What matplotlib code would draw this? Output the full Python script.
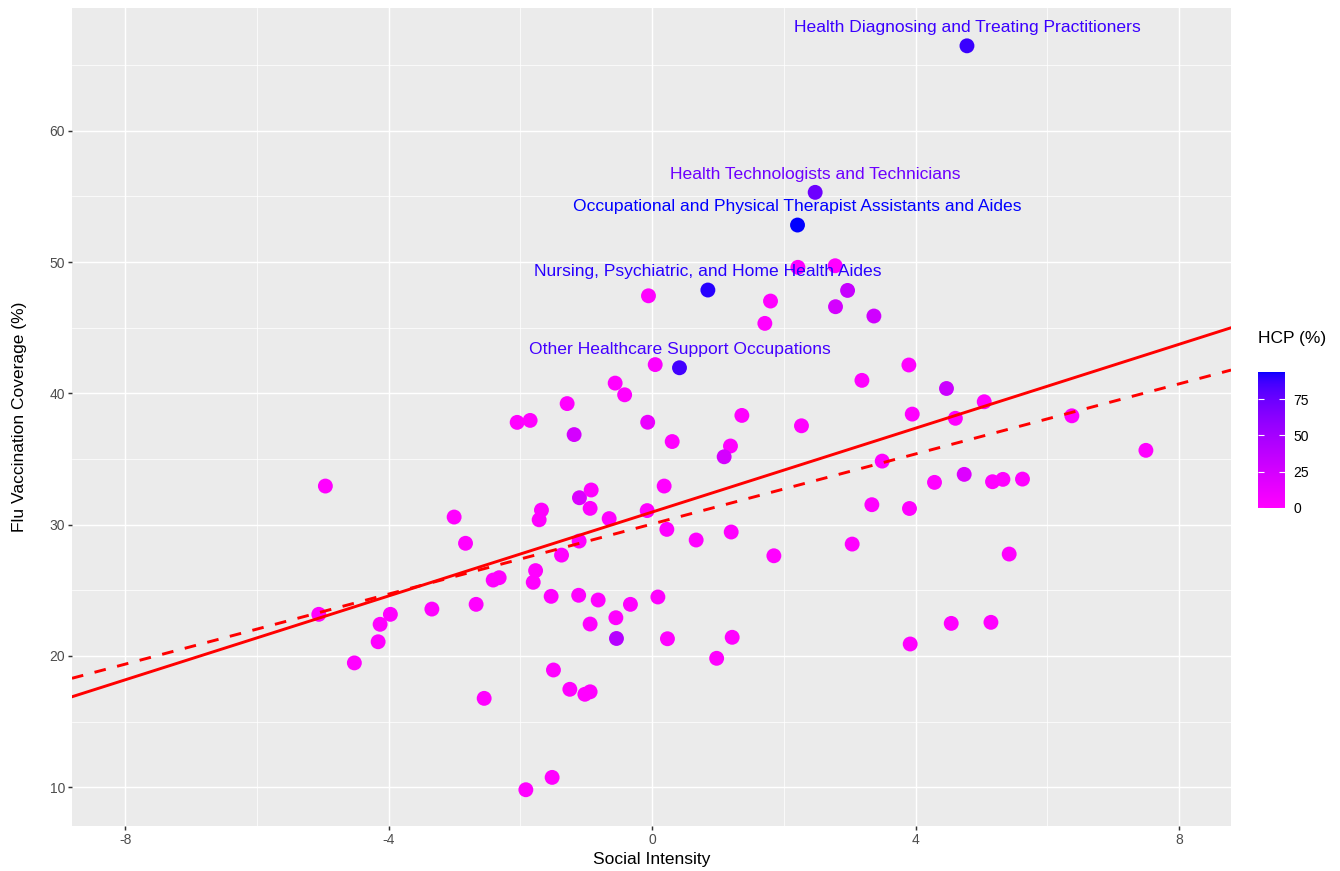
import numpy as np
import matplotlib
matplotlib.use("Agg")
import matplotlib.pyplot as plt
from matplotlib.colors import ListedColormap, Normalize

plt.rcParams['font.family'] = ['Liberation Sans', 'DejaVu Sans']
plt.rcParams['axes.unicode_minus'] = False

# data
social_intensity = [
    4.78, 2.475, 2.207, 0.846, 0.415,
    -0.056, 2.213, 2.779, 1.797, 2.967, 1.711, 2.784, 3.367, 0.046, -0.562,
    -0.418, 3.898, 3.185, 4.469, 3.949, 5.042, 4.604, -1.291, -1.185, -2.050,
    -1.853, -0.068, 0.304, 1.362, 2.267, 1.189, 1.093, 3.493, 6.373, 7.497,
    0.182, -1.104, -0.926, -1.681, -1.716, -0.653, -0.942, -0.076, 0.223, -1.109,
    0.668, 1.200, 3.336, 4.738, 4.287, 5.168, 5.326, 5.623, 3.907, 3.037,
    1.848, 5.421, -3.007, -2.834, -1.376, -1.770, -1.806, -2.414, -2.323, -4.962,
    -5.062, -4.131, -3.975, -4.161, -3.345, -2.673, -1.534, -1.116, -0.820, -0.330,
    0.087, -0.551, -0.942, -0.542, 0.232, 1.215, 0.979, -4.522, -1.499, -2.551,
    -1.250, -1.022, -0.942, -1.519, -1.918, 3.918, 4.541, 5.144,
]
flu_coverage = [
    66.47, 55.31, 52.82, 47.87, 41.95,
    47.43, 49.60, 49.72, 47.03, 47.84, 45.33, 46.60, 45.89, 42.19, 40.78,
    39.89, 42.16, 40.99, 40.37, 38.42, 39.36, 38.10, 39.22, 36.86, 37.79,
    37.94, 37.80, 36.33, 38.32, 37.53, 35.99, 35.17, 34.84, 38.29, 35.66,
    32.94, 32.05, 32.64, 31.11, 30.37, 30.46, 31.24, 31.07, 29.64, 28.75,
    28.83, 29.44, 31.52, 33.83, 33.22, 33.27, 33.45, 33.47, 31.23, 28.52,
    27.63, 27.76, 30.58, 28.58, 27.68, 26.50, 25.61, 25.78, 25.96, 32.94,
    23.17, 22.41, 23.17, 21.08, 23.57, 23.93, 24.54, 24.62, 24.26, 23.93,
    24.49, 22.91, 22.43, 21.33, 21.31, 21.42, 19.82, 19.47, 18.93, 16.77,
    17.46, 17.08, 17.27, 10.75, 9.81, 20.91, 22.48, 22.56,
]
hcp_pct = [
    88, 74, 94, 91, 86,
    0, 0, 0, 0, 33, 0, 25, 28, 2, 0,
    0, 0, 0, 30, 0, 0, 0, 0, 25, 0,
    0, 12, 0, 0, 0, 0, 25, 0, 0, 0,
    0, 22, 0, 0, 0, 0, 0, 0, 0, 0,
    0, 0, 0, 20, 0, 0, 0, 0, 0, 0,
    0, 0, 0, 0, 0, 0, 0, 0, 0, 0,
    0, 0, 0, 0, 0, 0, 0, 0, 0, 0,
    0, 0, 0, 42, 0, 0, 0, 0, 0, 0,
    0, 0, 0, 0, 0, 0, 0, 0,
]

occupation_labels = [
    "Health Diagnosing and Treating Practitioners",
    "Health Technologists and Technicians",
    "Occupational and Physical Therapist Assistants and Aides",
    "Nursing, Psychiatric, and Home Health Aides",
    "Other Healthcare Support Occupations",
]

# fitted lines (intercept, slope)
fit_solid = (30.96, 1.597)
fit_dashed = (30.05, 1.334)

x = np.array(social_intensity)
y = np.array(flu_coverage)
hcp = np.array(hcp_pct, dtype=float)


# magenta -> blue gradient interpolated in Lab space (like ggplot)
M = np.array([[0.4124, 0.3576, 0.1805],
              [0.2126, 0.7152, 0.0722],
              [0.0193, 0.1192, 0.9505]])
WHITE = np.array([0.95047, 1.0, 1.08883])


def srgb_to_lab(rgb):
    rgb = np.asarray(rgb, float)
    lin = np.where(rgb <= 0.04045, rgb / 12.92, ((rgb + 0.055) / 1.055) ** 2.4)
    xyz = M @ lin / WHITE
    f = np.where(xyz > 0.008856, np.cbrt(xyz), 7.787 * xyz + 16 / 116)
    return np.array([116 * f[1] - 16, 500 * (f[0] - f[1]), 200 * (f[1] - f[2])])


def lab_to_srgb(lab):
    L, a, b = lab
    fy = (L + 16) / 116
    f = np.array([fy + a / 500, fy, fy - b / 200])
    xyz = np.where(f ** 3 > 0.008856, f ** 3, (f - 16 / 116) / 7.787) * WHITE
    lin = np.clip(np.linalg.inv(M) @ xyz, 0, 1)
    rgb = np.where(lin <= 0.0031308, 12.92 * lin, 1.055 * lin ** (1 / 2.4) - 0.055)
    return np.clip(rgb, 0, 1)


low = srgb_to_lab([1, 0, 1])
high = srgb_to_lab([0, 0, 1])
cmap = ListedColormap([lab_to_srgb(low + t * (high - low)) for t in np.linspace(0, 1, 256)])
norm = Normalize(vmin=hcp.min(), vmax=hcp.max())

fig = plt.figure(figsize=(13.4, 8.71), dpi=100)
ax = fig.add_axes([0.0537, 0.0517, 0.8650, 0.9391])
ax.set_facecolor('#EBEBEB')

sc = ax.scatter(x, y, c=hcp, cmap=cmap, norm=norm, s=115, linewidths=0, zorder=3)

ax.axline((0, fit_solid[0]), slope=fit_solid[1], color='#FF0000', lw=2.1, zorder=4)
ax.axline((0, fit_dashed[0]), slope=fit_dashed[1], color='#FF0000', lw=2.1,
          ls=(0, (4, 4)), zorder=4)

for i, name in enumerate(occupation_labels):
    ax.annotate(name, (x[i], y[i]), xytext=(0, 13.2), textcoords='offset points',
                ha='center', va='center', fontsize=12.6, color=cmap(norm(hcp[i])), zorder=5)

ax.set_xlim(-8.81, 8.79)
ax.set_ylim(7.05, 69.35)
ax.set_xticks([-8, -4, 0, 4, 8])
ax.set_xticks([-6, -2, 2, 6], minor=True)
ax.set_yticks([10, 20, 30, 40, 50, 60])
ax.set_yticks([15, 25, 35, 45, 55, 65], minor=True)
ax.grid(which='major', color='white', lw=1.07)
ax.grid(which='minor', color='white', lw=0.53)
ax.set_axisbelow(True)
for sp in ax.spines.values():
    sp.set_visible(False)
ax.tick_params(which='major', length=2.75, width=1.07, color='#333333',
               labelcolor='#4D4D4D', labelsize=10, pad=2.2)
ax.tick_params(which='minor', length=0)

fig.text(651.5 / 1340, 1 - 859 / 871, 'Social Intensity', ha='center', va='center', fontsize=12.5)
fig.text(20 / 1340, 1 - 417 / 871, 'Flu Vaccination Coverage (%)', ha='center', va='center',
         rotation=90, fontsize=12.5)

cax = fig.add_axes([0.9386, 0.4171, 0.0204, 0.1561])
cb = fig.colorbar(sc, cax=cax, ticks=[0, 25, 50, 75])
cb.outline.set_visible(False)
cax.tick_params(left=True, right=True, direction='in', length=4.5, width=0.8,
                color='white', labelcolor='black', labelsize=10, pad=6)
fig.text(1257.7 / 1340, 1 - 338 / 871, 'HCP (%)', ha='left', va='center', fontsize=12.5)

fig.savefig('out.png', dpi=100)
